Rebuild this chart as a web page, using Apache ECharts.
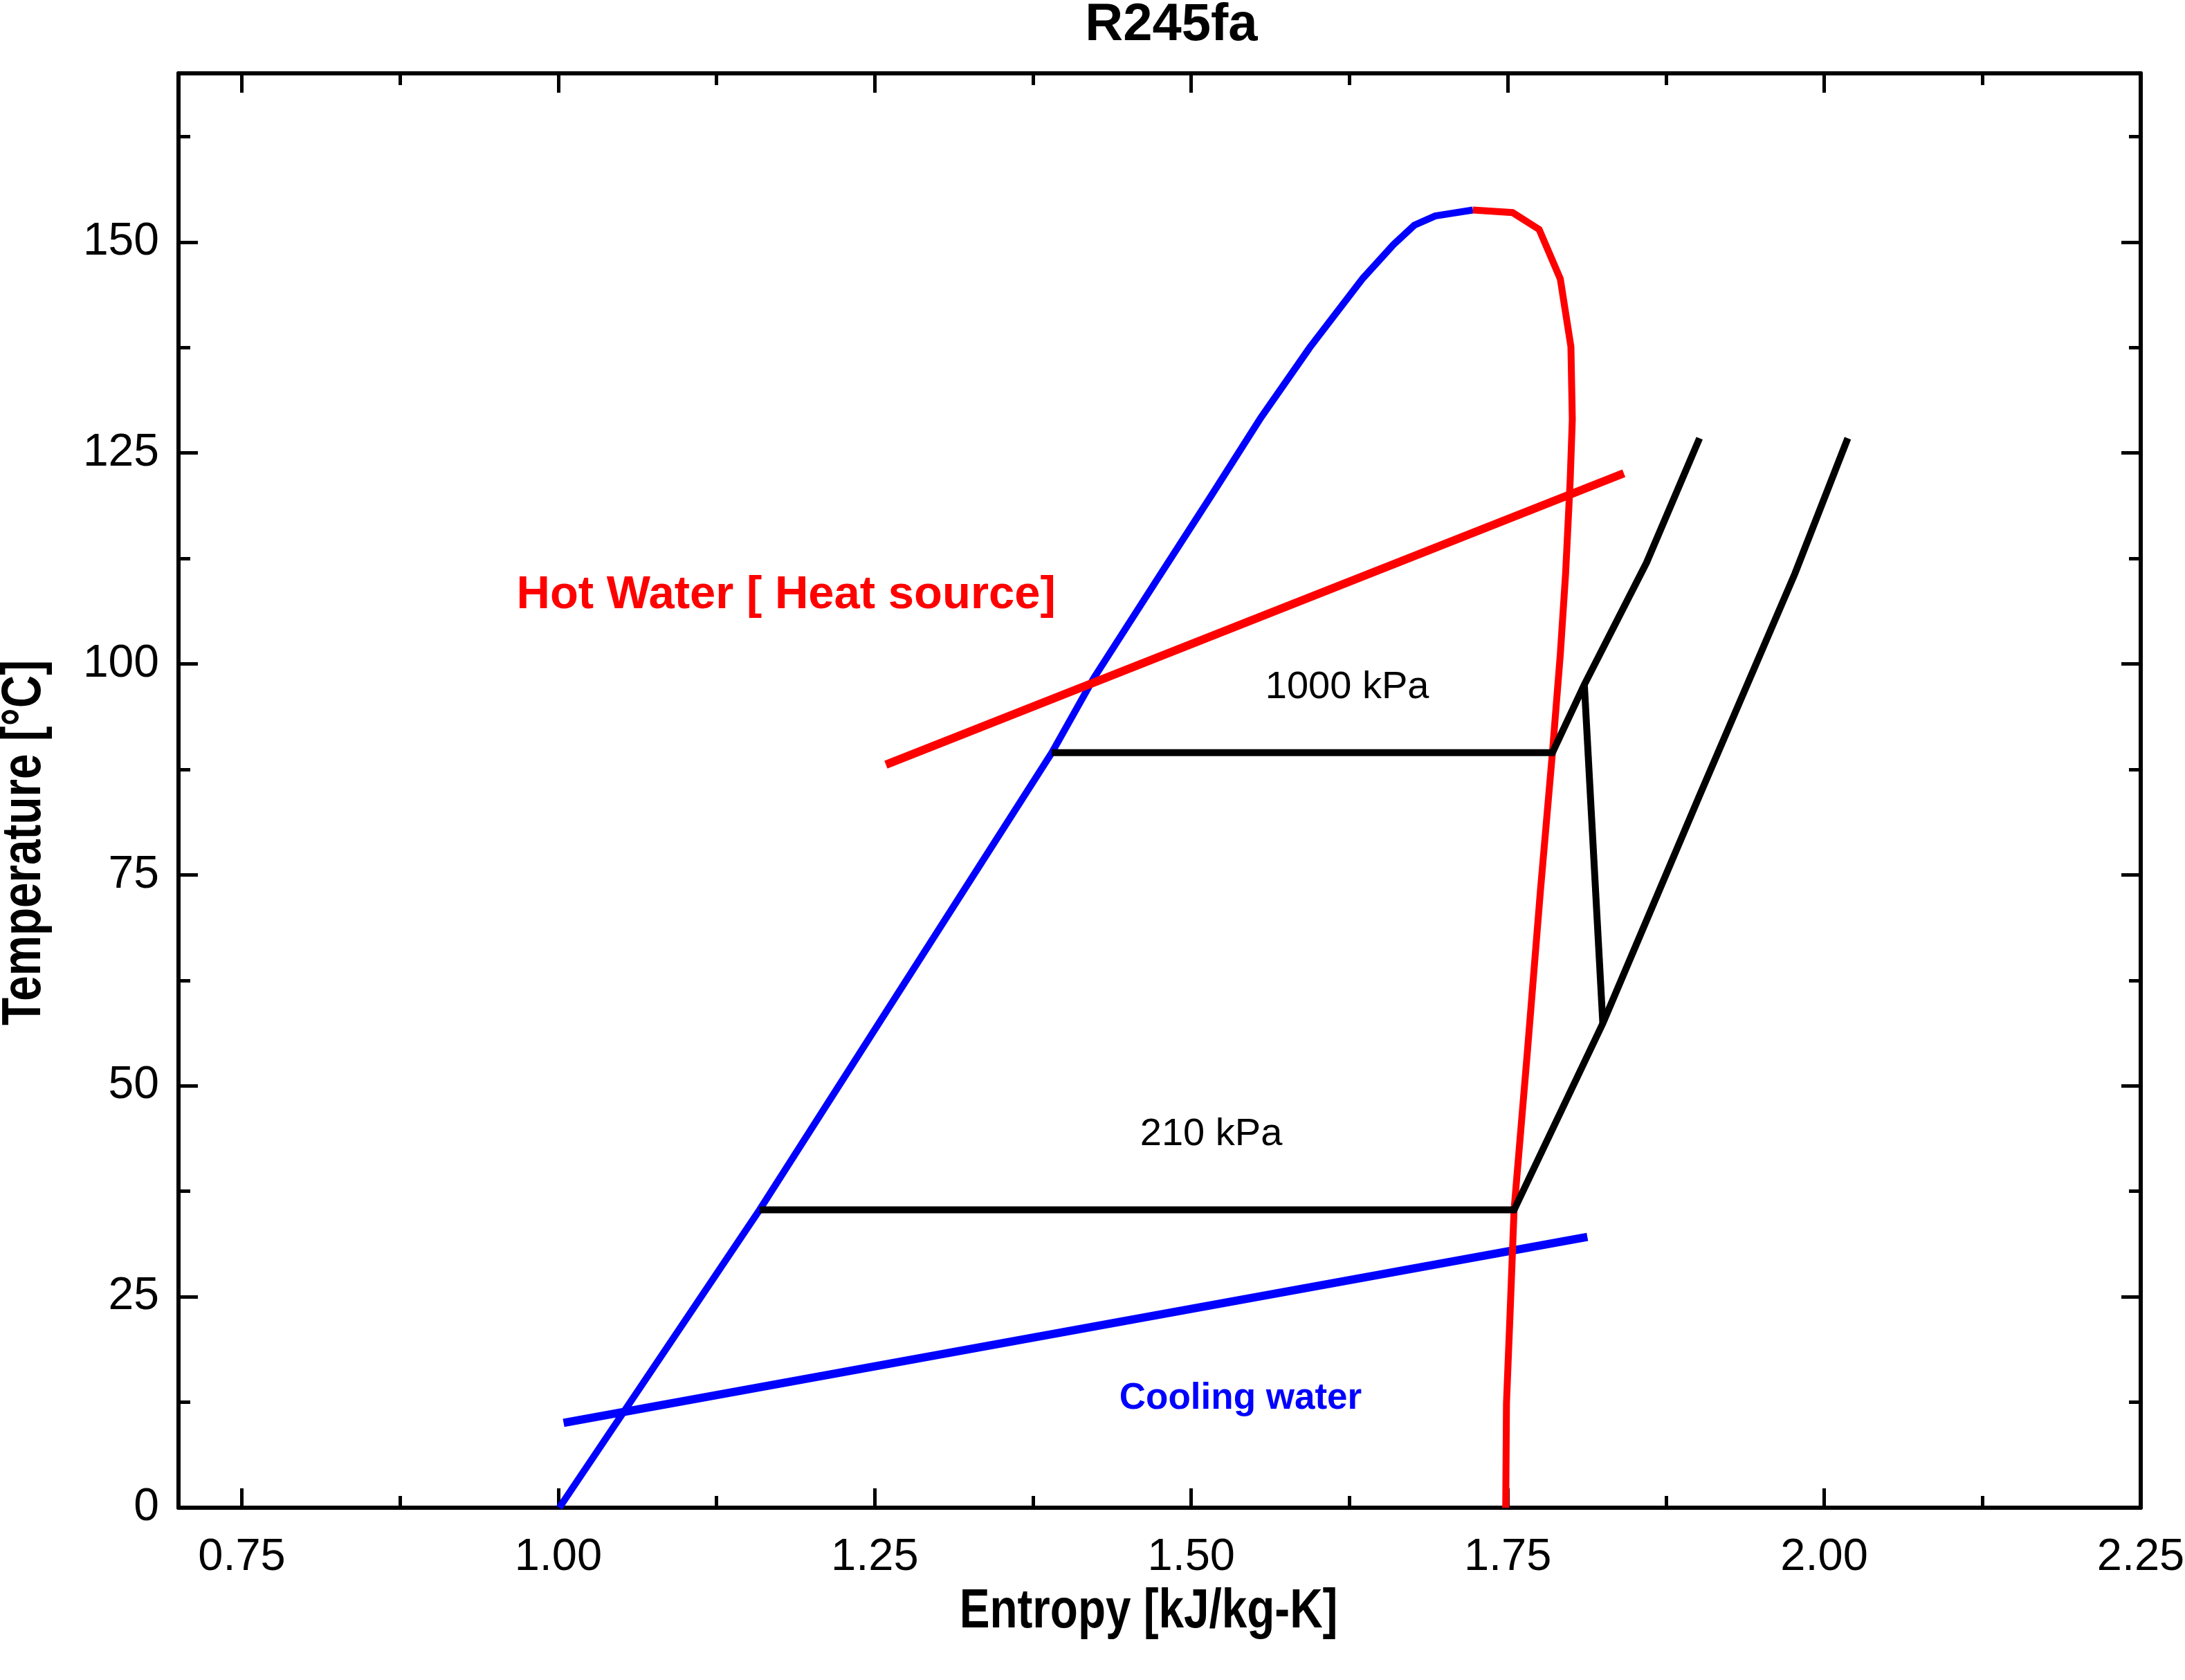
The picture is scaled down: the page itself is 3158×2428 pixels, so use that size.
<!DOCTYPE html>
<html><head><meta charset="utf-8">
<script src="https://cdn.jsdelivr.net/npm/echarts@6/dist/echarts.min.js"></script>
<style>html,body{margin:0;padding:0;background:#fff}#c{width:3158px;height:2428px}</style>
</head><body><div id="c"></div>
<script>
// ---- data (entropy s [kJ/kg-K], temperature T [°C]) ----
const satLiquidS = [1.0008, 1.159, 1.3899, 1.4229, 1.473, 1.516, 1.555, 1.5936, 1.6355, 1.6597, 1.6762, 1.6927, 1.7225];
const satLiquidT = [0, 35.3, 89.5, 98.3, 110, 120, 129.2, 137.5, 145.7, 149.7, 152.0, 153.1, 153.8];
const satVaporS = [1.7225, 1.7538, 1.7748, 1.7915, 1.7999, 1.8010, 1.7993, 1.7957, 1.7915, 1.7853, 1.7758, 1.7656, 1.7550, 1.7518, 1.7490, 1.7484];
const satVaporT = [153.8, 153.5, 151.5, 145.65, 137.6, 129.0, 121.7, 110.7, 101.1, 89.5, 73.1, 54.2, 35.3, 22.9, 12.4, 0];
const hotWaterS = [1.2588, 1.8417];
const hotWaterT = [88.06, 122.6];
const coolingWaterS = [1.0042, 1.8129];
const coolingWaterT = [10.05, 32.1];
const lowPressS = [1.159, 1.7550, 1.8251, 1.9015, 1.9768, 2.0186];
const lowPressT = [35.3, 35.3, 57.4, 84.4, 110.7, 126.75];
const highPressS = [1.3899, 1.7853, 1.8105, 1.8596, 1.9015];
const highPressT = [89.5, 89.5, 97.55, 112.0, 126.75];
const expansionS = [1.8105, 1.8251];
const expansionT = [97.55, 57.4];

const xMajorTicks = [0.75, 1.00, 1.25, 1.50, 1.75, 2.00, 2.25];
const xMinorTicks = [0.875, 1.125, 1.375, 1.625, 1.875, 2.125];
const yMajorTicks = [0, 25, 50, 75, 100, 125, 150];
const yMinorTicks = [12.5, 37.5, 62.5, 87.5, 112.5, 137.5, 162.5];

const annotationText = ['Hot Water [ Heat source]', 'Cooling water', '1000 kPa', '210 kPa'];
const annotationS = [0.967, 1.4432, 1.5585, 1.4596];
const annotationT = [108.1, 12.9, 97.2, 44.25];

// ---- chart ----
const zip = (a, b) => a.map((v, i) => [v, b[i]]);
const SANS = "'Liberation Sans', Arial, sans-serif";
const axisW = 6;

function xAxisDef(pos, major, withLine, withLabel) {
  return {
    type: 'value', min: 0.7, max: 2.25, position: pos,
    axisLine: { show: withLine, onZero: false, lineStyle: { color: '#000', width: axisW } },
    axisTick: { show: true, inside: true, length: major ? 28 : 17,
      customValues: major ? xMajorTicks : xMinorTicks,
      lineStyle: { color: '#000', width: 5 } },
    axisLabel: { show: withLabel, customValues: xMajorTicks, margin: 40,
      showMinLabel: true, showMaxLabel: true,
      formatter: v => v.toFixed(2),
      color: '#000', fontSize: 65, fontFamily: SANS },
    splitLine: { show: false }
  };
}
function yAxisDef(pos, major, withLine, withLabel) {
  return {
    type: 'value', min: 0, max: 170, position: pos,
    axisLine: { show: withLine, onZero: false, lineStyle: { color: '#000', width: axisW } },
    axisTick: { show: true, inside: true, length: major ? 28 : 17,
      customValues: major ? yMajorTicks : yMinorTicks,
      lineStyle: { color: '#000', width: 5 } },
    axisLabel: { show: withLabel, customValues: yMajorTicks, margin: 28,
      showMinLabel: true, showMaxLabel: true,
      color: '#000', fontSize: 66, fontFamily: SANS },
    splitLine: { show: false }
  };
}

function lineSeries(name, s, t, color, width) {
  return {
    name, type: 'line', xAxisIndex: 0, yAxisIndex: 0,
    data: zip(s, t), showSymbol: false, symbol: 'none', silent: true,
    lineStyle: { color, width, cap: 'butt', join: 'miter', opacity: 1 },
    animation: false
  };
}

const annStyles = [
  { color: '#ff0000', fontSize: 67, fontWeight: 'bold', fontFamily: SANS },
  { color: '#0000ff', fontSize: 53, fontWeight: 'bold', fontFamily: SANS },
  { color: '#000000', fontSize: 56, fontWeight: 'normal', fontFamily: SANS },
  { color: '#000000', fontSize: 56, fontWeight: 'normal', fontFamily: SANS }
];

const chart = echarts.init(document.getElementById('c'), null, { renderer: 'canvas' });
chart.setOption({
  backgroundColor: '#fff',
  animation: false,
  title: {
    text: 'R245fa', left: 1688, top: -6, textAlign: 'center',
    textStyle: { fontSize: 76, fontWeight: 'bold', color: '#000', fontFamily: SANS }
  },
  grid: { left: 258, right: 64, top: 106, bottom: 249, containLabel: false, outerBoundsMode: 'none' },
  xAxis: [
    xAxisDef('bottom', true, true, true),
    xAxisDef('bottom', false, false, false),
    xAxisDef('top', true, true, false),
    xAxisDef('top', false, false, false)
  ],
  yAxis: [
    yAxisDef('left', true, true, true),
    yAxisDef('left', false, false, false),
    yAxisDef('right', true, true, false),
    yAxisDef('right', false, false, false)
  ],
  series: [
    lineSeries('Saturated liquid', satLiquidS, satLiquidT, '#0000ff', 10),
    lineSeries('Cooling water', coolingWaterS, coolingWaterT, '#0000ff', 12),
    lineSeries('Hot water', hotWaterS, hotWaterT, '#ff0000', 12),
    lineSeries('Saturated vapor', satVaporS, satVaporT, '#ff0000', 10),
    lineSeries('210 kPa', lowPressS, lowPressT, '#000', 10),
    lineSeries('1000 kPa', highPressS, highPressT, '#000', 10),
    lineSeries('Expansion', expansionS, expansionT, '#000', 10),
    {
      name: 'labels', type: 'scatter', xAxisIndex: 0, yAxisIndex: 0,
      symbolSize: 0, silent: true, animation: false,
      itemStyle: { opacity: 1 },
      data: annotationText.map((txt, i) => ({
        value: [annotationS[i], annotationT[i]],
        label: Object.assign({ show: true, position: 'right', distance: 0, opacity: 1,
          formatter: txt, verticalAlign: 'middle', align: 'left' }, annStyles[i])
      }))
    }
  ],
  graphic: [
    { type: 'text', silent: true, x: 1660, y: 2330, scaleX: 0.82,
      style: { text: 'Entropy [kJ/kg-K]', x: 0, y: 0, align: 'center', verticalAlign: 'middle',
        font: 'bold 80px ' + SANS, fill: '#000' } },
    { type: 'text', silent: true, x: 36, y: 1218, rotation: Math.PI / 2, scaleX: 0.82,
      style: { text: 'Temperature [°C]', x: 0, y: 0, align: 'center', verticalAlign: 'middle',
        font: 'bold 80px ' + SANS, fill: '#000' } }
  ]
});
</script></body></html>
